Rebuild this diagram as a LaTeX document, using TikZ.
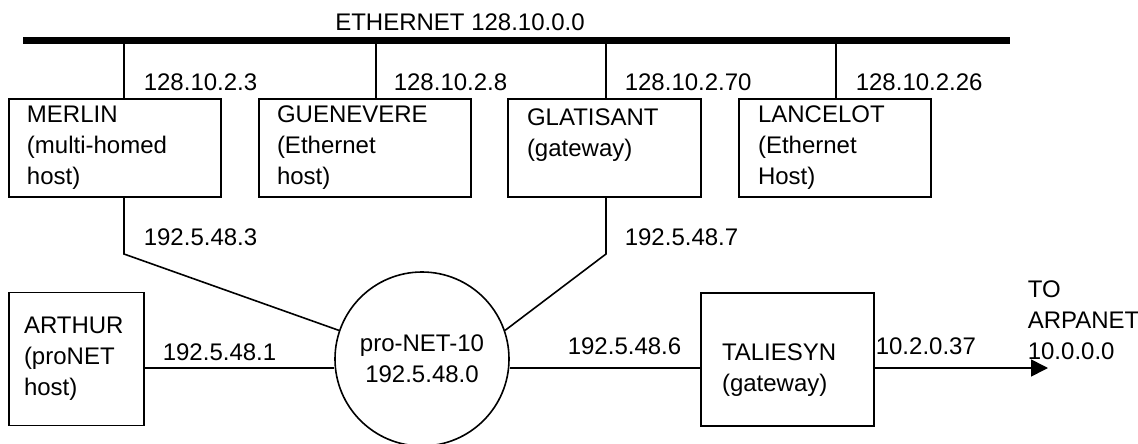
\documentclass[tikz,border=0pt]{standalone}
\usepackage{fontspec}
\setmainfont{Liberation Sans}
\usetikzlibrary{arrows.meta}

\begin{document}
\begin{tikzpicture}[x=1pt,y=-1pt,line width=1.6pt,
	font=\fontsize{24}{31}\selectfont,
	host/.style={draw, align=left, inner xsep=18pt, inner ysep=0pt, minimum height=98pt},
	gate/.style={draw, align=left, inner ysep=0pt, minimum height=133pt},
	addr/.style={anchor=west, inner sep=0pt},
	bus/.style={line width=7pt}]
	    \useasboundingbox (0,0) rectangle (1138,444);

	    \coordinate (ethl) at (23,40.5);
	    \coordinate (ethr) at (1010,40.5);
	    \coordinate (t1) at (124,40.5);
	    \coordinate (t2) at (376,40.5);
	    \coordinate (t3) at (606,40.5);
	    \coordinate (t4) at (836,40.5);
	    \node at (460,22) (ethname) {ETHERNET 128.10.0.0};

	    \node[host, text width=176pt] at (115,148) (merlin) {MERLIN\\(multi-homed\\host)};
	    \node[host, text width=176pt] at (365,148) (guenevere) {GUENEVERE\\(Ethernet\\host)};
	    \node[host, text width=155pt, inner xsep=19pt] at (604.5,148) (glatisant) {GLATISANT\\(gateway)\\~};
	    \node[host, text width=154pt, inner xsep=19pt] at (835,148) (lancelot) {LANCELOT\\(Ethernet\\Host)};

	    \node[addr] at (143,82) (a1) {128.10.2.3};
	    \node[addr] at (393,82) (a2) {128.10.2.8};
	    \node[addr] at (624,82) (a3) {128.10.2.70};
	    \node[addr] at (855,82) (a4) {128.10.2.26};

	    \node[gate, text width=105pt, inner xsep=15pt] at (76.5,359) (arthur) {ARTHUR\\(proNET\\host)};
	    \node[draw, circle, minimum size=174pt, inner sep=0pt, align=center] at (422,359) (pronet) {pro-NET-10\\192.5.48.0};
	    \node[gate, text width=131pt, inner xsep=21pt] at (787.5,359.5) (taliesyn) {\rule{0pt}{37pt}TALIESYN\\(gateway)};

	    \coordinate (m1) at (124,254);
	    \coordinate (g1) at (606,254);
	    \coordinate (lan) at (0,368);
	    \coordinate (arpa) at (1048,368);

	    \node[addr] at (143,237) (b1) {192.5.48.3};
	    \node[addr] at (624,237) (b2) {192.5.48.7};
	    \node[addr] at (162,352) (b3) {192.5.48.1};
	    \node[addr] at (567,346) (b4) {192.5.48.6};
	    \node[addr] at (875,346) (b5) {10.2.0.37};
	    \node[addr, align=left] at (1027,320) (toarpa) {TO\\ARPANET\\10.0.0.0};

	    \draw[bus] (ethl) -- (ethr);
	    \path (t1) edge (t1 |- merlin.north);
	    \path (t2) edge (t2 |- guenevere.north);
	    \path (t3) edge (t3 |- glatisant.north);
	    \path (t4) edge (t4 |- lancelot.north);

	    \draw (m1 |- merlin.south) -- (m1) -- (pronet.161);
	    \draw (g1 |- glatisant.south) -- (g1) -- (pronet.19);
	    \path (arthur.east |- lan) edge (pronet.west |- lan);
	    \path (pronet.east |- lan) edge (taliesyn.west |- lan);
	    \path[-{Triangle[length=17pt,width=17pt]}] (taliesyn.east |- lan) edge (arpa);
	\end{tikzpicture}
\end{document}
